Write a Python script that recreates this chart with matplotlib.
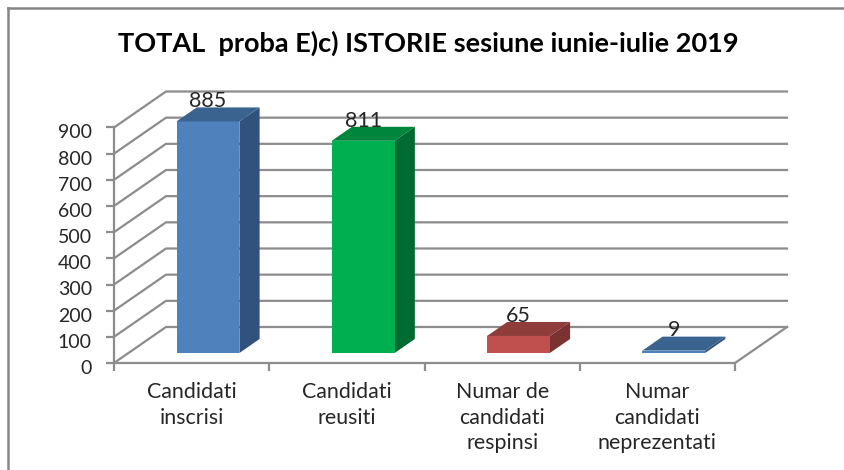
import matplotlib
matplotlib.use('Agg')
import matplotlib.pyplot as plt
from matplotlib.lines import Line2D
from matplotlib.patches import Polygon
from matplotlib.transforms import ScaledTranslation

plt.rcParams['font.family'] = ['Lato', 'DejaVu Sans']

# Chart data
categories = ['Candidati\ninscrisi', 'Candidati\nreusiti', 'Numar de\ncandidati\nrespinsi', 'Numar\ncandidati\nneprezentati']
values = [885, 811, 65, 9]
y_ticks = [0, 100, 200, 300, 400, 500, 600, 700, 800, 900]
title = 'TOTAL  proba E)c) ISTORIE sesiune iunie-iulie 2019'

# Face colours of each bar: front, top, side
front_colors = ['#4F81BD', '#00B050', '#C0504D', '#4F81BD']
top_colors = ['#3B6390', '#00863C', '#8F3D3B', '#3B6390']
side_colors = ['#31527C', '#006B30', '#7A3331', '#31527C']

W, H = 844, 470
grid_color = '#8C8C8C'
text_color = '#262626'

fig = plt.figure(figsize=(W / 100, H / 100), dpi=100, facecolor='white')

# Front plane of the 3D box, in pixels
left, right, bottom, top = 114, 735, 363, 127.5
ax = fig.add_axes([left / W, 1 - bottom / H, (right - left) / W, (bottom - top) / H])
ax.set_xlim(0, 4)
ax.set_ylim(0, 900)
ax.patch.set_visible(False)

# Going one full depth unit back moves this much in data units
depth_x = 52 / ((right - left) / 4)
depth_y = 36 / ((bottom - top) / 900)


def project(x, v, d):
    return (x + d * depth_x, v + d * depth_y)


# Back wall grid lines and the side wall diagonals
for v in y_ticks:
    x0, y0 = project(0, v, 0)
    x1, y1 = project(0, v, 1)
    x2, y2 = project(4, v, 1)
    ax.plot([x0, x1, x2], [y0, y1, y2], color=grid_color, lw=1.6, clip_on=False, zorder=1)

# Right edge of the floor
x0, y0 = project(4, 0, 0)
x1, y1 = project(4, 0, 1)
ax.plot([x0, x1], [y0, y1], color=grid_color, lw=1.6, clip_on=False, zorder=1)

# Bars: centred in the category, sitting in the middle of the depth
bar_w = 0.405
d0, d1 = 0.278, 0.667
for i, v in enumerate(values):
    xa = i + 0.5 - bar_w / 2 + 0.012
    xb = xa + bar_w
    front = [project(xa, 0, d0), project(xb, 0, d0), project(xb, v, d0), project(xa, v, d0)]
    side = [project(xb, 0, d0), project(xb, 0, d1), project(xb, v, d1), project(xb, v, d0)]
    roof = [project(xa, v, d0), project(xb, v, d0), project(xb, v, d1), project(xa, v, d1)]
    ax.add_patch(Polygon(side, closed=True, fc=side_colors[i], ec='none', clip_on=False, zorder=3))
    ax.add_patch(Polygon(front, closed=True, fc=front_colors[i], ec='none', clip_on=False, zorder=3))
    ax.add_patch(Polygon(roof, closed=True, fc=top_colors[i], ec='none', clip_on=False, zorder=3))
    lx, ly = project(xa + bar_w / 2, v, d0)
    ax.annotate(str(v), (lx, ly), xytext=(0, 14.5), textcoords='offset points', ha='center', va='center',
                fontsize=15.5, color=text_color, zorder=4, annotation_clip=False)

# Axes
for name in ['top', 'right']:
    ax.spines[name].set_visible(False)
for name in ['left', 'bottom']:
    ax.spines[name].set_color(grid_color)
    ax.spines[name].set_linewidth(1.6)

ax.set_yticks(y_ticks)
ax.tick_params(axis='y', length=6, width=1.6, color=grid_color, labelcolor=text_color, labelsize=14, pad=10)

# The value labels sit a little under their ticks in the original
nudge = ScaledTranslation(0, -4 / 100, fig.dpi_scale_trans)
for label in ax.get_yticklabels():
    label.set_transform(label.get_transform() + nudge)

ax.set_xticks(range(5))
ax.set_xticklabels([])
ax.set_xticks([i + 0.5 for i in range(4)], minor=True)
ax.set_xticklabels(categories, minor=True, fontsize=15.4, color=text_color, linespacing=1.32)
ax.tick_params(axis='x', which='major', length=6, width=1.6, color=grid_color)
ax.tick_params(axis='x', which='minor', length=0, pad=14)

fig.text(428 / W, 1 - 43 / H, title, ha='center', va='center', fontsize=19.5, fontweight='bold', color='black')

# Chart area border, only top and left are inside the crop
fig.add_artist(Line2D([8 / W, 8 / W], [0, 1 - 8 / H], color='#868686', lw=1.8))
fig.add_artist(Line2D([8 / W, 1], [1 - 8 / H, 1 - 8 / H], color='#868686', lw=1.8))

fig.savefig('out.png', dpi=100)
